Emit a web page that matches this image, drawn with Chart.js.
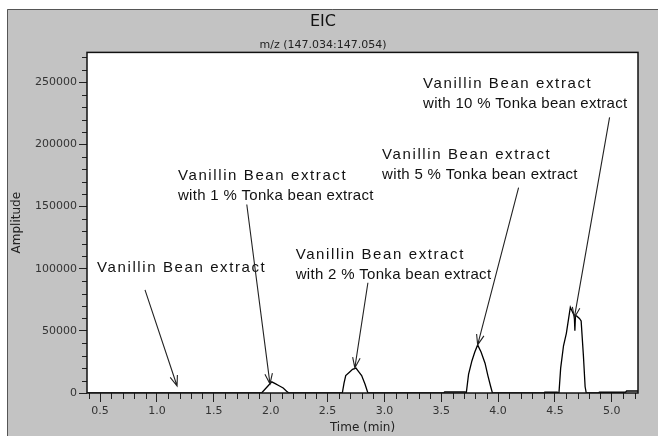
<!DOCTYPE html>
<html>
<head>
<meta charset="utf-8">
<script src="https://cdn.jsdelivr.net/npm/chart.js@4.4.1/dist/chart.umd.min.js"></script>
<style>
  html, body { margin: 0; padding: 0; background: #fff; }
  #wrap { width: 658px; height: 436px; }
</style>
</head>
<body>
<div id="wrap"><canvas id="eicChart" width="658" height="436"></canvas></div>
<script>
// EIC trace (time in min, amplitude)
const times = [
  0.385, 1.90, 1.92, 1.95, 1.98, 2.01, 2.04, 2.07, 2.11, 2.14, 2.16,
  2.61, 2.63, 2.645, 2.66, 2.69, 2.72, 2.75, 2.775, 2.80, 2.83, 2.855,
  3.52, 3.53, 3.71, 3.72, 3.74, 3.77, 3.795, 3.82, 3.85, 3.885, 3.91, 3.935, 3.95,
  4.40, 4.41, 4.52, 4.535, 4.55, 4.575, 4.60, 4.62, 4.635, 4.65, 4.67, 4.675, 4.68, 4.69,
  4.715, 4.73, 4.75, 4.765, 4.775, 4.88, 4.89, 5.12, 5.13, 5.23
];
const amplitude = [
  0, 0, 0, 3000, 6000, 9000, 7500, 6000, 4000, 1500, 0,
  0, 0, 8000, 14000, 16500, 19000, 20000, 17000, 14000, 7000, 0,
  0, 800, 800, 0, 15000, 26000, 33000, 38700, 33000, 24000, 14000, 5000, 0,
  0, 600, 600, 0, 20000, 38000, 48000, 60000, 69000, 66000, 62000, 50000, 62000, 62000,
  60000, 58000, 30000, 5000, 0, 0, 600, 600, 1600, 1600
];

// axis ticks
const xTicks = [0.5, 1.0, 1.5, 2.0, 2.5, 3.0, 3.5, 4.0, 4.5, 5.0];
const yTicks = [0, 50000, 100000, 150000, 200000, 250000];

// annotations (data units)
const noteLines = [
  ['Vanillin Bean extract'],
  ['Vanillin Bean extract', 'with 1 % Tonka bean extract'],
  ['Vanillin Bean extract', 'with 2 % Tonka bean extract'],
  ['Vanillin Bean extract', 'with 5 % Tonka bean extract'],
  ['Vanillin Bean extract', 'with 10 % Tonka bean extract']
];
const noteX = [0.474, 1.185, 2.22, 2.98, 3.34];
const noteY = [100800, 174400, 111500, 191300, 248600];
const arrowFromX = [0.895, 1.79, 2.855, 4.18, 4.98];
const arrowFromY = [83000, 151600, 88700, 165300, 221800];
const arrowToX = [1.177, 1.994, 2.74, 3.82, 4.67];
const arrowToY = [5600, 7300, 20200, 38700, 60500];

const points = times.map((t, i) => ({ x: t, y: amplitude[i] }));

// gray frame, white plot box, minor ticks
const framePlugin = {
  id: 'frame',
  beforeDraw(chart) {
    const ctx = chart.ctx, a = chart.chartArea;
    ctx.save();
    ctx.fillStyle = '#fff';
    ctx.fillRect(0, 0, chart.width, chart.height);
    ctx.fillStyle = '#c3c3c3';
    ctx.fillRect(7, 9, chart.width - 7, chart.height - 9);
    ctx.strokeStyle = '#555';
    ctx.lineWidth = 1;
    ctx.beginPath();
    ctx.moveTo(7.5, chart.height);
    ctx.lineTo(7.5, 9.5);
    ctx.lineTo(chart.width, 9.5);
    ctx.stroke();
    ctx.fillStyle = '#fff';
    ctx.fillRect(a.left, a.top, a.right - a.left, a.bottom - a.top);
    ctx.restore();
  },
  afterDraw(chart) {
    const ctx = chart.ctx, a = chart.chartArea;
    const xs = chart.scales.x, ys = chart.scales.y;
    ctx.save();
    ctx.strokeStyle = '#222';
    ctx.lineWidth = 1;
    ctx.beginPath();
    for (let k = 4; k <= 52; k++) {
      if (k % 5 === 0) continue;
      const px = Math.round(xs.getPixelForValue(k / 10)) + 0.5;
      ctx.moveTo(px, a.bottom);
      ctx.lineTo(px, a.bottom + 6);
    }
    for (let v = 10000; v <= 270000; v += 10000) {
      if (v % 50000 === 0) continue;
      const py = Math.round(ys.getPixelForValue(v)) + 0.5;
      ctx.moveTo(a.left, py);
      ctx.lineTo(a.left - 5, py);
    }
    ctx.stroke();
    ctx.strokeStyle = '#111';
    ctx.lineWidth = 1.5;
    ctx.strokeRect(a.left, a.top, a.right - a.left, a.bottom - a.top);
    ctx.restore();
  }
};

// text labels with arrows
const notePlugin = {
  id: 'notes',
  afterDatasetsDraw(chart) {
    const ctx = chart.ctx;
    const xs = chart.scales.x, ys = chart.scales.y;
    ctx.save();
    ctx.font = '15px "Liberation Sans", Arial, sans-serif';
    ctx.fillStyle = '#111';
    ctx.textBaseline = 'middle';
    ctx.textAlign = 'left';
    noteLines.forEach((lines, i) => {
      const px = xs.getPixelForValue(noteX[i]);
      const py = ys.getPixelForValue(noteY[i]);
      lines.forEach((s, j) => {
        if ('letterSpacing' in ctx) ctx.letterSpacing = j === 0 ? '1.6px' : '0.3px';
        ctx.fillText(s, px, py + j * 20);
      });
    });
    ctx.strokeStyle = '#222';
    ctx.lineWidth = 1.1;
    arrowFromX.forEach((fx, i) => {
      const x1 = xs.getPixelForValue(fx), y1 = ys.getPixelForValue(arrowFromY[i]);
      const x2 = xs.getPixelForValue(arrowToX[i]), y2 = ys.getPixelForValue(arrowToY[i]);
      const ang = Math.atan2(y2 - y1, x2 - x1);
      ctx.beginPath();
      ctx.moveTo(x1, y1);
      ctx.lineTo(x2, y2);
      ctx.moveTo(x2 - 11 * Math.cos(ang - 0.35), y2 - 11 * Math.sin(ang - 0.35));
      ctx.lineTo(x2, y2);
      ctx.lineTo(x2 - 11 * Math.cos(ang + 0.35), y2 - 11 * Math.sin(ang + 0.35));
      ctx.stroke();
    });
    ctx.restore();
  }
};

const tickFont = { family: '"DejaVu Sans", Verdana, sans-serif', size: 11 };

const eicChart = new Chart(document.getElementById('eicChart'), {
  type: 'line',
  data: {
    datasets: [{
      label: 'EIC',
      data: points,
      borderColor: '#000',
      borderWidth: 1.3,
      pointRadius: 0,
      tension: 0,
      fill: false
    }]
  },
  options: {
    responsive: false,
    animation: false,
    layout: { padding: { top: 9, left: 8, right: 20, bottom: 0 } },
    plugins: {
      legend: { display: false },
      tooltip: { enabled: false },
      title: {
        display: true,
        text: 'EIC',
        color: '#111',
        font: { family: '"DejaVu Sans", Verdana, sans-serif', size: 16, weight: 'normal' },
        padding: { top: 3, bottom: 2 }
      },
      subtitle: {
        display: true,
        text: 'm/z (147.034:147.054)',
        color: '#222',
        font: { family: '"DejaVu Sans", Verdana, sans-serif', size: 11 },
        padding: { top: 5, bottom: 1 }
      }
    },
    scales: {
      x: {
        type: 'linear',
        min: 0.385,
        max: 5.23,
        afterBuildTicks: s => { s.ticks = xTicks.map(v => ({ value: v })); },
        afterFit: s => { s.height = 43; },
        border: { display: false },
        grid: { drawOnChartArea: false, tickLength: 9, color: '#222' },
        ticks: {
          color: '#333',
          font: tickFont,
          padding: 3,
          maxRotation: 0,
          callback: v => v.toFixed(1)
        },
        title: {
          display: true,
          text: 'Time (min)',
          color: '#222',
          font: { family: '"DejaVu Sans", Verdana, sans-serif', size: 12 },
          padding: { top: 0, bottom: 1 }
        }
      },
      y: {
        min: 0,
        max: 274000,
        afterBuildTicks: s => { s.ticks = yTicks.map(v => ({ value: v })); },
        afterFit: s => { s.width = 79; },
        border: { display: false },
        grid: { drawOnChartArea: false, tickLength: 8, color: '#222' },
        ticks: {
          color: '#333',
          font: tickFont,
          padding: 2,
          callback: v => String(v)
        },
        title: {
          display: true,
          text: 'Amplitude',
          color: '#222',
          font: { family: '"DejaVu Sans", Verdana, sans-serif', size: 12 },
          padding: { top: 2, bottom: 0 }
        }
      }
    }
  },
  plugins: [framePlugin, notePlugin]
});
</script>
</body>
</html>
